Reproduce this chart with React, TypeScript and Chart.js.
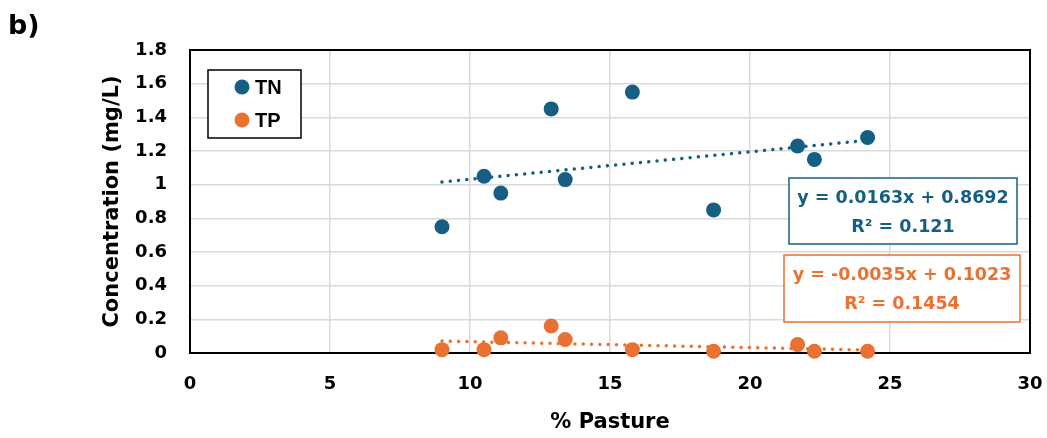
import React, { useEffect, useRef } from "react";
import { Chart, registerables } from "chart.js";

Chart.register(...registerables);

// ---- Data ----
const pastureX = [9.0, 10.5, 11.1, 12.9, 13.4, 15.8, 18.7, 21.7, 22.3, 24.2];
const tnValues = [0.75, 1.05, 0.95, 1.45, 1.03, 1.55, 0.85, 1.23, 1.15, 1.28];
const tpValues = [0.02, 0.02, 0.09, 0.16, 0.08, 0.02, 0.01, 0.05, 0.01, 0.01];

const tnTrend = [0.0163, 0.8692]; // slope, intercept
const tpTrend = [-0.0035, 0.1023];
const tnEquation = ["y = 0.0163x + 0.8692", "R² = 0.121"];
const tpEquation = ["y = -0.0035x + 0.1023", "R² = 0.1454"];

const seriesNames = ["TN", "TP"];
const xTickLabels = ["0", "5", "10", "15", "20", "25", "30"];
const yTickLabels = ["0", "0.2", "0.4", "0.6", "0.8", "1", "1.2", "1.4", "1.6", "1.8"];

const BLUE = "#175F82";
const ORANGE = "#E97132";
const FONT = "'DejaVu Sans'";

function trendPoints(coef: number[]) {
  const lo = Math.min(...pastureX);
  const hi = Math.max(...pastureX);
  return [
    { x: lo, y: coef[0] * lo + coef[1] },
    { x: hi, y: coef[0] * hi + coef[1] },
  ];
}

const decorPlugin = {
  id: "decor",
  beforeDatasetsDraw(chart: any) {
    const { ctx, chartArea: a } = chart;
    ctx.save();
    ctx.strokeStyle = "#000";
    ctx.lineWidth = 2;
    ctx.strokeRect(a.left, a.top, a.right - a.left, a.bottom - a.top);
    ctx.restore();
  },
  afterDraw(chart: any) {
    const { ctx, chartArea: a } = chart;
    ctx.save();
    // panel label
    ctx.fillStyle = "#000";
    ctx.font = `bold 27px ${FONT}`;
    ctx.textAlign = "left";
    ctx.textBaseline = "alphabetic";
    ctx.fillText("b)", 8, 34);

    // legend
    const lx = a.left + 18;
    const ly = a.top + 20;
    ctx.fillStyle = "#fff";
    ctx.fillRect(lx, ly, 93, 68);
    ctx.strokeStyle = "#000";
    ctx.lineWidth = 1.5;
    ctx.strokeRect(lx, ly, 93, 68);
    const colors = [BLUE, ORANGE];
    seriesNames.forEach((name, i) => {
      const cy = ly + 17 + i * 33;
      ctx.fillStyle = colors[i];
      ctx.beginPath();
      ctx.arc(lx + 34, cy, 7.5, 0, Math.PI * 2);
      ctx.fill();
      ctx.fillStyle = "#000";
      ctx.font = `bold 20px 'Liberation Sans'`;
      ctx.textAlign = "left";
      ctx.textBaseline = "middle";
      ctx.fillText(name, lx + 47, cy + 1);
    });

    // equation boxes
    const boxes = [
      { lines: tnEquation, color: BLUE, x: 789, y: 178, w: 228, h: 66 },
      { lines: tpEquation, color: ORANGE, x: 784, y: 255, w: 236, h: 67 },
    ];
    boxes.forEach((b) => {
      ctx.fillStyle = "#fff";
      ctx.fillRect(b.x, b.y, b.w, b.h);
      ctx.strokeStyle = b.color;
      ctx.lineWidth = 1.5;
      ctx.strokeRect(b.x, b.y, b.w, b.h);
      ctx.fillStyle = b.color;
      ctx.font = `bold 17.5px ${FONT}`;
      ctx.textAlign = "center";
      ctx.textBaseline = "middle";
      ctx.fillText(b.lines[0], b.x + b.w / 2, b.y + 20);
      ctx.fillText(b.lines[1], b.x + b.w / 2, b.y + 49);
    });
    ctx.restore();
  },
};

export default function App() {
  const ref = useRef<HTMLCanvasElement | null>(null);

  useEffect(() => {
    if (!ref.current) return;
    const chart = new Chart(ref.current, {
      type: "scatter",
      data: {
        datasets: [
          {
            label: "TN trend",
            data: trendPoints(tnTrend),
            showLine: true,
            borderColor: BLUE,
            borderWidth: 3.5,
            borderDash: [0.01, 8.3],
            borderCapStyle: "round",
            pointRadius: 0,
            order: 0,
          },
          {
            label: "TP trend",
            data: trendPoints(tpTrend),
            showLine: true,
            borderColor: ORANGE,
            borderWidth: 3.5,
            borderDash: [0.01, 8.3],
            borderCapStyle: "round",
            pointRadius: 0,
            order: 0,
          },
          {
            label: seriesNames[0],
            data: pastureX.map((x, i) => ({ x, y: tnValues[i] })),
            backgroundColor: BLUE,
            borderWidth: 0,
            pointRadius: 7.5,
            clip: false,
            order: 1,
          },
          {
            label: seriesNames[1],
            data: pastureX.map((x, i) => ({ x, y: tpValues[i] })),
            backgroundColor: ORANGE,
            borderWidth: 0,
            pointRadius: 7.5,
            clip: false,
            order: 1,
          },
        ] as any,
      },
      options: {
        animation: false,
        responsive: false,
        events: [],
        layout: { padding: { top: 50, right: 17, left: 0, bottom: 0 } },
        plugins: {
          legend: { display: false },
          tooltip: { enabled: false },
          title: { display: false },
        },
        scales: {
          x: {
            type: "linear",
            min: 0,
            max: 30,
            ticks: {
              stepSize: 5,
              color: "#000",
              padding: 21,
              font: { family: FONT, size: 18, weight: "bold" },
              callback: (_v: any, i: number) => xTickLabels[i],
            },
            grid: { color: "#d9d9d9", lineWidth: 1.5, drawTicks: false },
            border: { display: false },
            title: {
              display: true,
              text: "% Pasture",
              color: "#000",
              font: { family: FONT, size: 21, weight: "bold" },
              padding: { top: 0, bottom: 2.5 },
            },
            afterFit: (s: any) => {
              s.height = 85;
              s.paddingLeft = 0;
              s.paddingRight = 0;
            },
          },
          y: {
            type: "linear",
            min: 0,
            max: 1.8,
            ticks: {
              stepSize: 0.2,
              color: "#000",
              padding: 23,
              font: { family: FONT, size: 18, weight: "bold" },
              callback: (_v: any, i: number) => yTickLabels[i],
            },
            grid: { color: "#d9d9d9", lineWidth: 1.5, drawTicks: false },
            border: { display: false },
            title: {
              display: true,
              text: "Concentration (mg/L)",
              color: "#000",
              font: { family: FONT, size: 21, weight: "bold" },
              padding: { top: 100, bottom: 0 },
            },
            afterFit: (s: any) => {
              s.width = 190;
              s.paddingTop = 0;
              s.paddingBottom = 0;
            },
          },
        },
      } as any,
      plugins: [decorPlugin],
    });
    return () => chart.destroy();
  }, []);

  return (
    <div style={{ position: "absolute", left: 0, top: 0, width: 1047, height: 438, background: "#fff" }}>
      <canvas ref={ref} width={1047} height={438} />
    </div>
  );
}
